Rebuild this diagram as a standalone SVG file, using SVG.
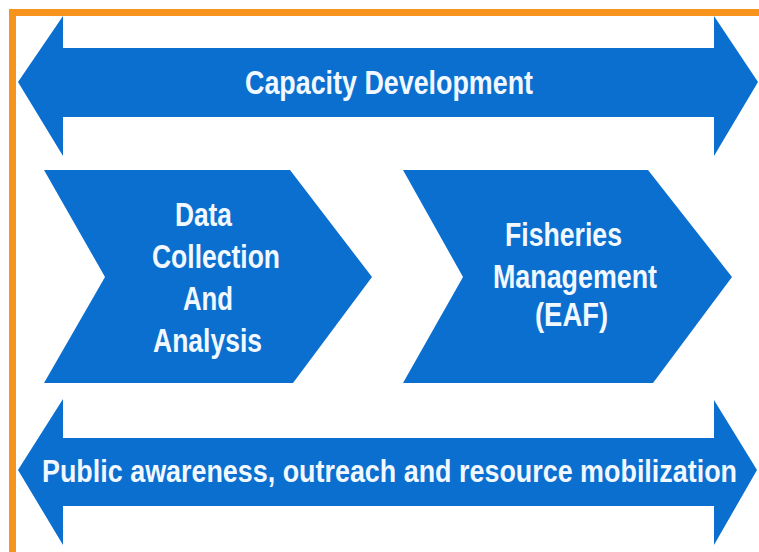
<svg xmlns="http://www.w3.org/2000/svg" width="759" height="552" viewBox="0 0 759 552">
<style>
.shape{fill:#0b6fd0;}
.lbl{font-family:"Liberation Sans",Arial,sans-serif;fill:#f2f8ff;text-anchor:middle;font-weight:bold;}
</style>
<rect x="0" y="0" width="759" height="552" fill="#ffffff"/>
<path d="M12.5,560 V12.5 H770" fill="none" stroke="#f7941d" stroke-width="7"/>
<g id="capacity">
<path class="shape" d="M18,82 L63,16 V48 H714 V16 L758,82 L714,156 V117 H63 V156 Z"/>
<text class="lbl" x="389" y="94" font-size="34" textLength="288" lengthAdjust="spacingAndGlyphs">Capacity Development</text>
</g>
<g id="data">
<path class="shape" d="M44,170 H290 L372,277 L293,383 H44 L105,277 Z"/>
<text class="lbl" x="203.5" y="226" font-size="33" textLength="57" lengthAdjust="spacingAndGlyphs">Data</text>
<text class="lbl" x="216" y="268" font-size="33" textLength="128" lengthAdjust="spacingAndGlyphs">Collection</text>
<text class="lbl" x="208" y="310" font-size="33" textLength="50" lengthAdjust="spacingAndGlyphs">And</text>
<text class="lbl" x="207.5" y="352" font-size="33" textLength="109" lengthAdjust="spacingAndGlyphs">Analysis</text>
</g>
<g id="fisheries">
<path class="shape" d="M403,170 H648 L732,277 L653,383 H403 L463,277 Z"/>
<text class="lbl" x="563.5" y="246" font-size="33" textLength="117" lengthAdjust="spacingAndGlyphs">Fisheries</text>
<text class="lbl" x="575" y="288" font-size="33" textLength="164" lengthAdjust="spacingAndGlyphs">Management</text>
<text class="lbl" x="571.5" y="326" font-size="33" textLength="73" lengthAdjust="spacingAndGlyphs">(EAF)</text>
</g>
<g id="public">
<path class="shape" d="M18,470 L63,399 V438 H714 V400 L757,470 L714,545 V506 H63 V545 Z"/>
<text class="lbl" x="389.5" y="482" font-size="31" textLength="695" lengthAdjust="spacingAndGlyphs">Public awareness, outreach and resource mobilization</text>
</g>
<g id="connectors"/>
</svg>
